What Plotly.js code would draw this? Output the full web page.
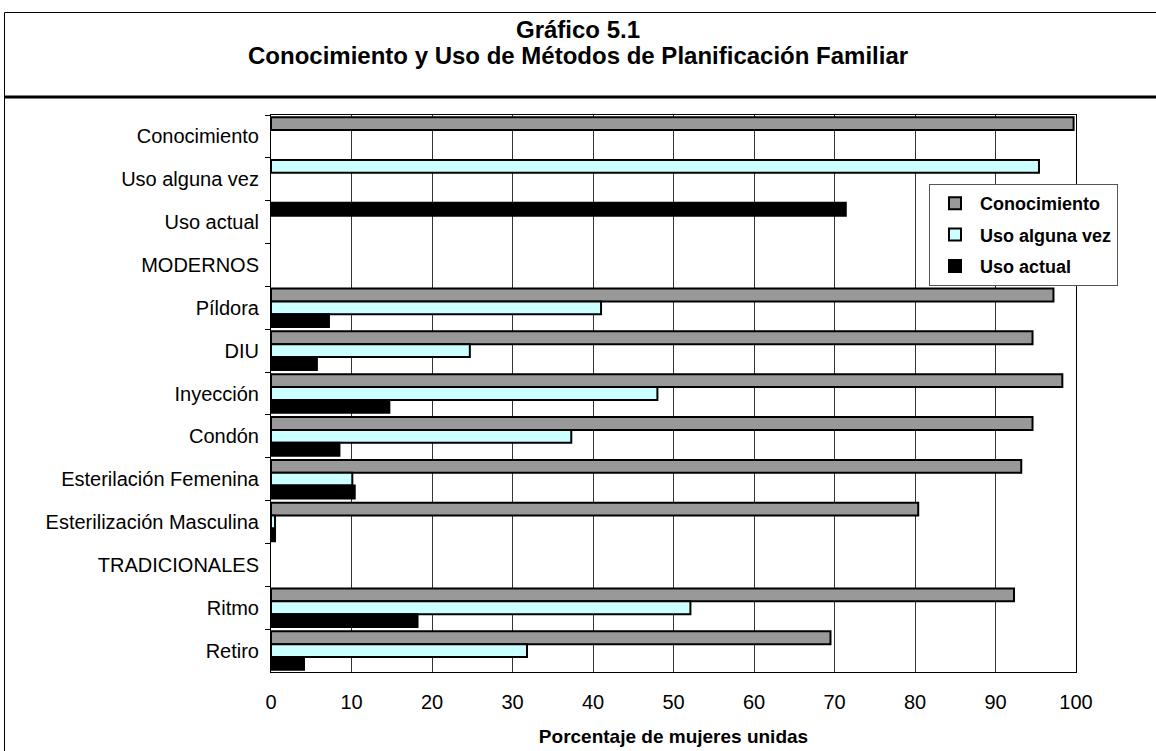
<!DOCTYPE html>
<html>
<head>
<meta charset="utf-8">
<script src="https://cdn.plot.ly/plotly-3.0.1.min.js"></script>
<style>
  html, body { margin: 0; padding: 0; background: #ffffff; }
  #chart { width: 1156px; height: 751px; }
</style>
</head>
<body>
<div id="chart"></div>
<script>
// ---- Data ----
const categories = [
  "Conocimiento", "Uso alguna vez", "Uso actual", "MODERNOS",
  "Píldora", "DIU", "Inyección", "Condón",
  "Esterilación Femenina", "Esterilización Masculina",
  "TRADICIONALES", "Ritmo", "Retiro"
];
const seriesNames = ["Conocimiento", "Uso alguna vez", "Uso actual"];
const conocimiento = [99.7, 95.4, 71.4, null, 97.2, 94.6, 98.3, 94.6, 93.2, 80.4, null, 92.3, 69.5];
const usoAlgunaVez = [null, null, null, null, 41.0, 24.7, 48.0, 37.3, 10.1, 0.5, null, 52.1, 31.8];
const usoActual    = [null, null, null, null, 7.2, 5.7, 14.7, 8.5, 10.4, 0.5, null, 18.2, 4.1];
const xTicks = [0, 10, 20, 30, 40, 50, 60, 70, 80, 90, 100];
const titleLine1 = "Gráfico 5.1";
const titleLine2 = "Conocimiento y Uso de Métodos de Planificación Familiar";
const xAxisTitle = "Porcentaje de mujeres unidas";

// ---- Styles ----
const GRAY = "#999999", CYAN = "#CCFFFF", BLACK = "#000000";
// The three summary rows (first three categories) share the first slot but use each series' colour
const firstSlotColors = categories.map((c, i) => i === 1 ? CYAN : (i === 2 ? BLACK : GRAY));

const W = 1156, H = 751;
const M = { l: 271, r: 80, t: 115, b: 79 };
const pw = W - M.l - M.r, ph = H - M.t - M.b;
const px = x => (x - M.l) / pw;
const py = y => (H - M.b - y) / ph;

const font = "Arial, 'Liberation Sans', Helvetica, sans-serif";
const lineStyle = { color: "#000000", width: 2 };

const traces = [
  { type: "bar", orientation: "h", name: seriesNames[0], y: categories, x: conocimiento,
    marker: { color: firstSlotColors, line: lineStyle }, legendgroup: "a", hoverinfo: "x+y" },
  { type: "bar", orientation: "h", name: seriesNames[1], y: categories, x: usoAlgunaVez,
    marker: { color: CYAN, line: lineStyle }, legendgroup: "b", hoverinfo: "x+y" },
  { type: "bar", orientation: "h", name: seriesNames[2], y: categories, x: usoActual,
    marker: { color: BLACK, line: lineStyle }, legendgroup: "c", hoverinfo: "x+y" }
];

const layout = {
  width: W, height: H,
  margin: M,
  paper_bgcolor: "#ffffff",
  plot_bgcolor: "#ffffff",
  font: { family: font, color: "#000000", size: 20 },
  barmode: "group",
  bargap: 0.1,
  bargroupgap: 0,
  showlegend: true,
  legend: {
    x: px(929), y: py(184), xanchor: "left", yanchor: "top",
    bgcolor: "#ffffff", bordercolor: "#555555", borderwidth: 1,
    font: { family: font, size: 18, color: "#000000", weight: "bold" },
    traceorder: "grouped", tracegroupgap: 5,
    itemwidth: 40
  },
  xaxis: {
    range: [0, 100],
    tickvals: xTicks,
    ticktext: xTicks.map(String),
    showgrid: true, gridcolor: "#333333", gridwidth: 1,
    showline: true, linecolor: "#000000", linewidth: 1, mirror: true,
    ticks: "", zeroline: false,
    ticklabelstandoff: 12,
    tickfont: { family: font, size: 20, color: "#000000" },
    title: { text: xAxisTitle, font: { family: font, size: 19, color: "#000000", weight: "bold" }, standoff: 17 },
    fixedrange: true
  },
  yaxis: {
    type: "category",
    categoryorder: "array", categoryarray: categories,
    autorange: "reversed",
    showgrid: false,
    showline: true, linecolor: "#000000", linewidth: 1, mirror: true,
    ticks: "outside", ticklen: 5, tickcolor: "#000000", tickson: "boundaries",
    ticklabelstandoff: 7,
    tickfont: { family: font, size: 20, color: "#000000" },
    fixedrange: true
  },
  annotations: [
    { xref: "paper", yref: "paper", x: px(578), y: py(29), xanchor: "center", yanchor: "middle",
      text: "<b>" + titleLine1 + "</b>", showarrow: false, font: { family: font, size: 24, color: "#000000" } },
    { xref: "paper", yref: "paper", x: px(578), y: py(55), xanchor: "center", yanchor: "middle",
      text: "<b>" + titleLine2 + "</b>", showarrow: false, font: { family: font, size: 24, color: "#000000" } }
  ],
  shapes: [
    { type: "rect", xref: "paper", yref: "paper", x0: px(4.5), x1: px(1170), y0: py(12.5), y1: py(760),
      line: { color: "#000000", width: 1 }, fillcolor: "rgba(0,0,0,0)", layer: "above" },
    { type: "line", xref: "paper", yref: "paper", x0: px(4.5), x1: px(1170), y0: py(97), y1: py(97),
      line: { color: "#000000", width: 3 } }
  ]
};

Plotly.newPlot("chart", traces, layout, { displayModeBar: false, staticPlot: true });
</script>
</body>
</html>
